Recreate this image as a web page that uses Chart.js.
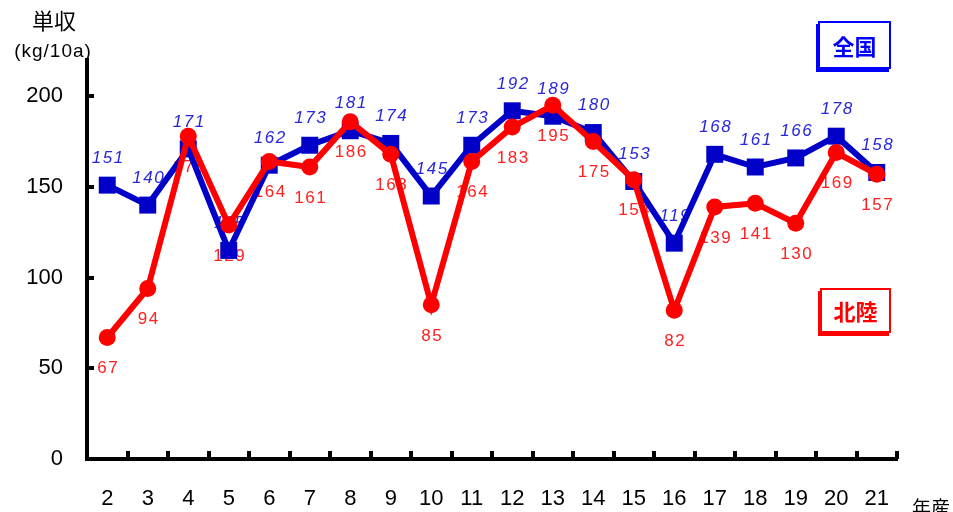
<!DOCTYPE html>
<html lang="ja">
<head>
<meta charset="utf-8">
<script src="https://cdn.jsdelivr.net/npm/chart.js@4"></script>
<style>
  html, body { margin: 0; padding: 0; background: #fff; }
  #wrap { position: relative; width: 953px; height: 512px; overflow: hidden; }
  canvas { position: absolute; left: 0; top: 0; }
  .key {
    position: absolute; box-sizing: border-box; text-align: center;
    font-family: "Noto Sans CJK JP", sans-serif; font-weight: 700; font-size: 22px;
    background: #fff;
  }
  #keyAll { left: 818px; top: 21px; width: 73px; height: 48px; line-height: 44px;
    color: #0000ff; border: 2px solid #0000ff; box-shadow: -2px 3px 0 #0000ff; }
  #keyHk { left: 820px; top: 288px; width: 71px; height: 45px; line-height: 41px;
    color: #ff0000; border: 2px solid #ff0000; box-shadow: -2px 3px 0 #ff0000; }
</style>
</head>
<body>
<div id="wrap">
  <canvas id="c" width="953" height="512"></canvas>
  <div class="key" id="keyAll">全国</div>
  <div class="key" id="keyHk">北陸</div>
</div>
<script>
// 年産 (平成)
const years = ['2','3','4','5','6','7','8','9','10','11','12','13','14','15','16','17','18','19','20','21'];
// 単収 kg/10a
const zenkoku = [151,140,171,115,162,173,181,174,145,173,192,189,180,153,119,168,161,166,178,158];
const hokuriku = [67,94,178,129,164,161,186,168,85,164,183,195,175,154,82,139,141,130,169,157];
const yTicks = [0,50,100,150,200];

const BLUE = '#0000c8';
const RED = '#ff0000';

// value labels, drawn under the lines
const valueLabels = {
  id: 'valueLabels',
  beforeDatasetsDraw(chart) {
    const ctx = chart.ctx;
    ctx.save();
    ctx.textAlign = 'center';
    ctx.textBaseline = 'middle';
    ctx.letterSpacing = '1.5px';
    chart.data.datasets.forEach((ds, di) => {
      const meta = chart.getDatasetMeta(di);
      const above = ds.labelPos === 'above';
      ctx.fillStyle = ds.labelColor;
      ctx.font = (above ? 'italic ' : '') + '17px "Liberation Sans", Arial, sans-serif';
      meta.data.forEach((pt, i) => {
        const y = above ? pt.y - 27 : pt.y + 31;
        ctx.fillText(String(ds.data[i]), pt.x + 1, y);
      });
    });
    ctx.restore();
  }
};

// inward tick marks, axis captions
const axisDecor = {
  id: 'axisDecor',
  afterDraw(chart) {
    const ctx = chart.ctx;
    const { left, right, bottom } = chart.chartArea;
    const xs = chart.scales.x, ys = chart.scales.y;
    ctx.save();
    ctx.strokeStyle = '#000';
    ctx.lineWidth = 4;
    ctx.beginPath();
    // y ticks pointing right
    yTicks.forEach(v => {
      if (v === 0) return;
      const y = Math.round(ys.getPixelForValue(v));
      ctx.moveTo(left, y); ctx.lineTo(left + 7, y);
    });
    ctx.stroke();
    // x ticks on category boundaries pointing up
    ctx.beginPath();
    for (let i = 0; i < years.length; i++) {
      const xb = Math.round((xs.getPixelForValue(i) + xs.getPixelForValue(i + 1)) / 2);
      ctx.moveTo(xb, bottom); ctx.lineTo(xb, bottom - 8);
    }
    ctx.stroke();
    ctx.fillStyle = '#000';
    ctx.textAlign = 'center';
    ctx.textBaseline = 'middle';
    ctx.font = '22px "Noto Sans CJK JP", sans-serif';
    ctx.fillText('単収', 54, 21);
    ctx.font = '19px "Liberation Sans", Arial, sans-serif';
    ctx.letterSpacing = '1px';
    ctx.fillText('(kg/10a)', 53, 52);
    ctx.letterSpacing = '0px';
    ctx.font = '19px "Noto Sans CJK JP", sans-serif';
    ctx.fillText('年産', 931, 508);
    ctx.restore();
  }
};

new Chart(document.getElementById('c'), {
  type: 'line',
  data: {
    labels: years,
    datasets: [
      {
        label: '北陸',
        data: hokuriku,
        borderColor: RED,
        backgroundColor: RED,
        borderWidth: 6,
        pointStyle: 'circle',
        pointRadius: 8.5,
        pointBorderWidth: 0,
        tension: 0,
        labelColor: '#ff2020',
        labelPos: 'below'
      },
      {
        label: '全国',
        data: zenkoku,
        borderColor: BLUE,
        backgroundColor: BLUE,
        borderWidth: 6,
        pointStyle: 'rect',
        pointRadius: 12,
        pointBorderWidth: 0,
        tension: 0,
        labelColor: '#2828d8',
        labelPos: 'above'
      }
    ]
  },
  options: {
    responsive: false,
    animation: false,
    events: [],
    layout: { padding: { top: 60, right: 56, left: 0, bottom: 0 } },
    plugins: { legend: { display: false }, tooltip: { enabled: false } },
    scales: {
      x: {
        offset: true,
        grid: { display: false, drawTicks: false },
        border: { display: true, color: '#000', width: 4 },
        ticks: {
          color: '#000', padding: 27, maxRotation: 0, autoSkip: false,
          font: { family: '"Liberation Sans", Arial, sans-serif', size: 22 }
        },
        afterFit(s) { s.height = 53; }
      },
      y: {
        min: 0, max: 220,
        grid: { display: false, drawTicks: false },
        border: { display: true, color: '#000', width: 4 },
        afterBuildTicks(s) { s.ticks = yTicks.map(v => ({ value: v })); },
        ticks: {
          color: '#000', padding: 24,
          font: { family: '"Liberation Sans", Arial, sans-serif', size: 22 }
        },
        afterFit(s) { s.width = 87; }
      }
    }
  },
  plugins: [valueLabels, axisDecor]
});
</script>
</body>
</html>
